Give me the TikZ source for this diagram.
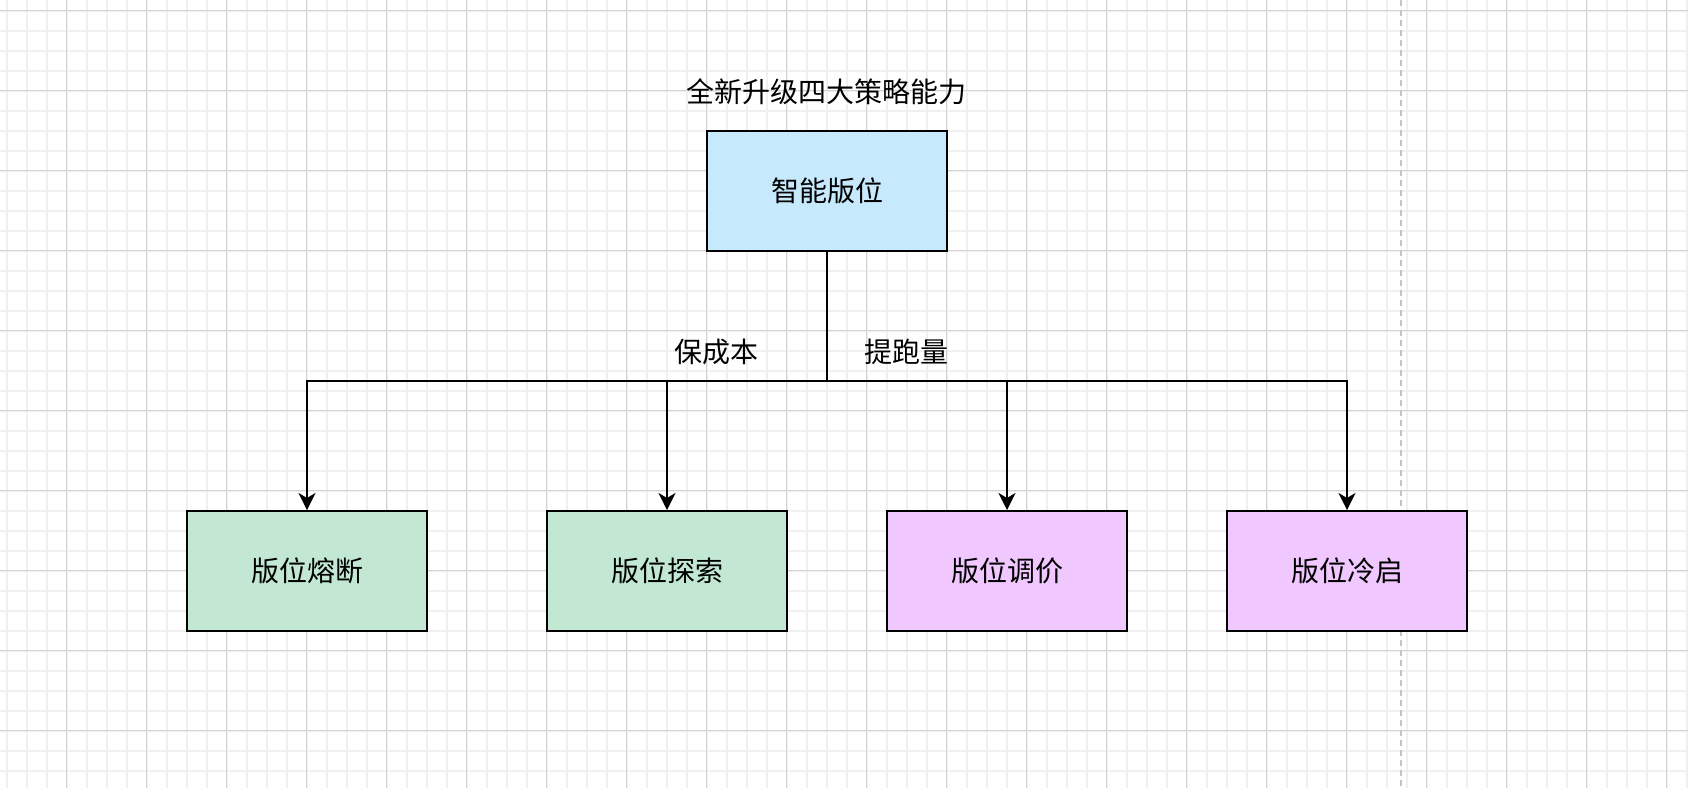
\documentclass[tikz,border=0pt]{standalone}
\usepackage{fontspec}
\setmainfont{Noto Sans CJK SC}
\usetikzlibrary{arrows.meta}
\definecolor{gridminor}{HTML}{F0F0F0}
\definecolor{gridmajor}{HTML}{D2D2D2}
\definecolor{dashgray}{HTML}{C4C4C4}
\definecolor{bluefill}{HTML}{C6E9FC}
\definecolor{greenfill}{HTML}{C2E8D4}
\definecolor{purplefill}{HTML}{F0C7FE}
\begin{document}
\begin{tikzpicture}[x=1pt,y=-1pt,
  box/.style={draw=black, line width=2pt, minimum width=240pt, minimum height=120pt,
    inner sep=0pt, font=\fontsize{28}{34}\selectfont},
  lbl/.style={inner sep=0pt, font=\fontsize{28}{34}\selectfont},
  conn/.style={draw=black, line width=2pt},
  arr/.style={conn, -{Stealth[length=17pt,width=17pt,inset=5pt]}}]
\useasboundingbox (0,0) rectangle (1688,788);
\fill[white] (0,0) rectangle (1688,788);
% minor grid
\foreach \i in {0,...,84} {
  \draw[gridminor, line width=2pt] (6.5+20*\i,0) -- (6.5+20*\i,788);
}
\foreach \j in {0,...,39} {
  \draw[gridminor, line width=2pt] (0,10.5+20*\j) -- (1688,10.5+20*\j);
}
% major grid
\foreach \i in {0,...,20} {
  \draw[gridmajor, line width=1pt] (66.5+80*\i,0) -- (66.5+80*\i,788);
}
\foreach \j in {0,...,9} {
  \draw[gridmajor, line width=1pt] (0,10.5+80*\j) -- (1688,10.5+80*\j);
}
% page break line
\draw[dashgray, line width=2pt, dash pattern=on 6pt off 4pt] (1400.6,0) -- (1400.6,788);

% nodes
\node[lbl] (title) at (826,92) {全新升级四大策略能力};
\node[box, fill=bluefill] (top) at (827,191) {智能版位};
\node[box, fill=greenfill] (b1) at (307,571) {版位熔断};
\node[box, fill=greenfill] (b2) at (667,571) {版位探索};
\node[box, fill=purplefill] (b3) at (1007,571) {版位调价};
\node[box, fill=purplefill] (b4) at (1347,571) {版位冷启};
\node[lbl] (l1) at (716,352) {保成本};
\node[lbl] (l2) at (906,352) {提跑量};

% connectors
\coordinate (hub) at (827,381);
\draw[conn] (top.south) -- (hub);
\draw[arr] (hub) -| (b1.north);
\draw[arr] (hub) -| (b2.north);
\draw[arr] (hub) -| (b3.north);
\draw[arr] (hub) -| (b4.north);
\end{tikzpicture}
\end{document}
